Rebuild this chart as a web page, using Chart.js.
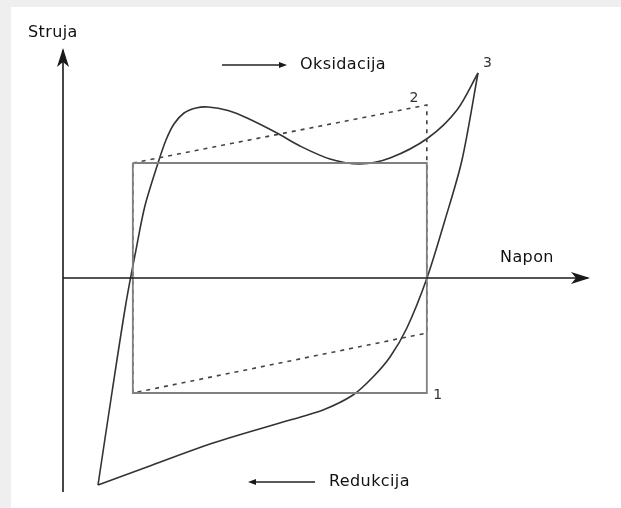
<!DOCTYPE html>
<html>
<head>
<meta charset="utf-8">
<script src="https://cdn.jsdelivr.net/npm/chart.js@4"></script>
<style>
html,body{margin:0;padding:0;background:#fff;}
canvas{display:block;}
</style>
</head>
<body>
<canvas id="c" width="621" height="508"></canvas>
<script>
// Axis (voltage, % of axis length) and current (arbitrary units)
const axisLabels = { x: "Napon", y: "Struja" };
const directionLabels = ["Oksidacija", "Redukcija"];
const curveNames = ["1", "2", "3"];

// 1: ideal capacitor (rectangle)
const rectX = [13.3, 69.3, 69.3, 13.3, 13.3];
const rectY = [1.15, 1.15, -1.15, -1.15, 1.15];

// 2: resistive capacitor (dashed parallelogram)
const paraX = [13.3, 69.3, 69.3, 13.3, 13.3];
const paraY = [1.15, 1.73, -0.55, -1.15, 1.15];

// 3: pseudocapacitive curve, upper (oxidation) branch
const fwdX = [6.67, 9.4, 12.0, 13.9, 15.6, 18.1, 19.62, 21.14, 23.05, 25.33, 27.62, 31.43, 35.05, 40.76, 45.14, 50.86, 56.57, 62.29, 69.52, 75.05, 79.05];
const fwdY = [-2.07, -1.12, -0.25, 0.28, 0.72, 1.15, 1.38, 1.54, 1.65, 1.70, 1.71, 1.675, 1.60, 1.45, 1.32, 1.19, 1.14, 1.20, 1.40, 1.68, 2.05];
// 3: lower (reduction) branch
const revX = [6.67, 16.0, 28.57, 43.24, 49.52, 55.24, 59.05, 62.29, 65.5, 69.33, 72.76, 76.0, 79.05];
const revY = [-2.07, -1.89, -1.65, -1.42, -1.32, -1.17, -0.99, -0.79, -0.50, 0, 0.58, 1.18, 2.05];

// axes
const xAxisX = [0, 100];
const xAxisY = [0, 0];
const yAxisX = [0, 0];
const yAxisY = [-2.14, 2.28];

const zip = (xs, ys) => xs.map((x, i) => ({ x, y: ys[i] }));

// label anchors in data units (left edge, vertical middle)
const textItems = [
  { t: axisLabels.y, x: -6.67, y: 2.45, big: true },
  { t: axisLabels.x, x: 83.24, y: 0.20, big: true },
  { t: directionLabels[0], x: 45.14, y: 2.13, big: true },
  { t: directionLabels[1], x: 50.67, y: -2.04, big: true },
  { t: curveNames[0], x: 70.5, y: -1.17, big: false },
  { t: curveNames[1], x: 66.0, y: 1.80, big: false },
  { t: curveNames[2], x: 80.0, y: 2.15, big: false }
];
const dirArrows = [
  { x0: 30.29, x1: 42.67, y: 2.13 },
  { x0: 48.0, x1: 35.24, y: -2.04 }
];

const deco = {
  id: 'deco',
  beforeDraw(chart) {
    const ctx = chart.ctx;
    ctx.save();
    ctx.fillStyle = '#ffffff';
    ctx.fillRect(0, 0, chart.width, chart.height);
    ctx.fillStyle = '#efefef';
    ctx.fillRect(0, 0, chart.width, 7);
    ctx.fillRect(0, 0, 11, chart.height);
    ctx.restore();
  },
  afterDatasetsDraw(chart) {
    const ctx = chart.ctx;
    const xs = chart.scales.x, ys = chart.scales.y;
    ctx.save();
    // axis arrowheads
    ctx.fillStyle = '#1a1a1a';
    const ax = xs.getPixelForValue(xAxisX[1]), ay = ys.getPixelForValue(0);
    ctx.beginPath();
    ctx.moveTo(ax + 2, ay);
    ctx.lineTo(ax - 17, ay - 6);
    ctx.lineTo(ax - 12, ay);
    ctx.lineTo(ax - 17, ay + 6);
    ctx.closePath();
    ctx.fill();
    const bx = xs.getPixelForValue(0), by = ys.getPixelForValue(yAxisY[1]);
    ctx.beginPath();
    ctx.moveTo(bx, by - 2);
    ctx.lineTo(bx - 6, by + 17);
    ctx.lineTo(bx, by + 12);
    ctx.lineTo(bx + 6, by + 17);
    ctx.closePath();
    ctx.fill();
    // direction arrows
    ctx.strokeStyle = '#222';
    ctx.lineWidth = 1.6;
    dirArrows.forEach(a => {
      const p0 = xs.getPixelForValue(a.x0), p1 = xs.getPixelForValue(a.x1), py = ys.getPixelForValue(a.y);
      const dir = Math.sign(p1 - p0);
      ctx.beginPath();
      ctx.moveTo(p0, py);
      ctx.lineTo(p1 - dir * 4, py);
      ctx.stroke();
      ctx.beginPath();
      ctx.moveTo(p1, py);
      ctx.lineTo(p1 - dir * 8, py - 3);
      ctx.lineTo(p1 - dir * 8, py + 3);
      ctx.closePath();
      ctx.fill();
    });
    // texts
    ctx.textBaseline = 'middle';
    ctx.textAlign = 'left';
    textItems.forEach(it => {
      ctx.font = it.big ? '16px "DejaVu Sans"' : '14px "DejaVu Sans"';
      try { ctx.letterSpacing = it.big ? '0.4px' : '0px'; } catch (e) {}
      ctx.fillStyle = it.big ? '#111' : '#333';
      ctx.fillText(it.t, xs.getPixelForValue(it.x), ys.getPixelForValue(it.y));
    });
    ctx.restore();
  }
};

new Chart(document.getElementById('c'), {
  type: 'line',
  data: {
    datasets: [
      { data: zip(xAxisX, xAxisY), borderColor: '#1a1a1a', borderWidth: 1.6 },
      { data: zip(yAxisX, yAxisY), borderColor: '#1a1a1a', borderWidth: 1.6 },
      { data: zip(rectX, rectY), borderColor: '#808080', borderWidth: 1.8 },
      { data: zip(paraX, paraY), borderColor: '#444', borderWidth: 1.6, borderDash: [4, 5] },
      { data: zip(fwdX, fwdY), borderColor: '#333', borderWidth: 1.6, tension: 0.3 },
      { data: zip(revX, revY), borderColor: '#333', borderWidth: 1.6, tension: 0.3 }
    ]
  },
  options: {
    responsive: false,
    animation: false,
    devicePixelRatio: 1,
    layout: { padding: { left: 63, right: 33, top: 50, bottom: 16 } },
    elements: { point: { radius: 0, hoverRadius: 0 }, line: { fill: false } },
    datasets: { line: { clip: false, pointRadius: 0 } },
    plugins: { legend: { display: false }, tooltip: { enabled: false } },
    events: [],
    scales: {
      x: { type: 'linear', min: 0, max: 100, display: false },
      y: { type: 'linear', min: -2.14, max: 2.28, display: false }
    }
  },
  plugins: [deco]
});
</script>
</body>
</html>
